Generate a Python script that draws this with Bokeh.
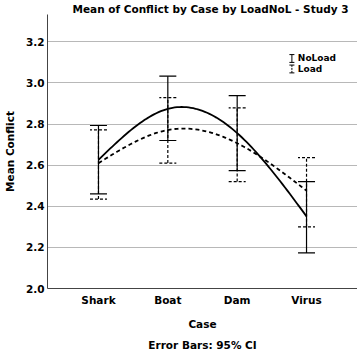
import numpy as np
from bokeh.plotting import figure
from bokeh.models import (Range1d, FixedTicker, Whisker, TeeHead, ColumnDataSource,
                          Label, Title, NumeralTickFormatter)
from bokeh.embed import file_html
from bokeh.resources import INLINE

# ---- data ----
cases = ["Shark", "Boat", "Dam", "Virus"]
noload_mean = [2.626, 2.874, 2.756, 2.351]
noload_lower = [2.460, 2.720, 2.573, 2.173]
noload_upper = [2.793, 3.033, 2.938, 2.520]
load_mean = [2.610, 2.771, 2.707, 2.476]
load_lower = [2.435, 2.610, 2.520, 2.300]
load_upper = [2.772, 2.929, 2.879, 2.637]
series_names = ["NoLoad", "Load"]
y_ticks = [2.0, 2.2, 2.4, 2.6, 2.8, 3.0, 3.2]

FONT = "DejaVu Sans"


def natural_spline(ys, steps=30):
    """Smooth natural cubic spline through the means (display only)."""
    y = np.asarray(ys, dtype=float)
    n = len(y)
    xs = np.arange(n, dtype=float)
    A = np.zeros((n, n))
    b = np.zeros(n)
    A[0, 0] = 1
    A[-1, -1] = 1
    for i in range(1, n - 1):
        A[i, i - 1] = 1
        A[i, i] = 4
        A[i, i + 1] = 1
        b[i] = 6 * (y[i - 1] - 2 * y[i] + y[i + 1])
    M = np.linalg.solve(A, b)
    out_x, out_y = [], []
    for i in range(n - 1):
        t = np.linspace(0, 1, steps, endpoint=(i == n - 2))
        s = 1 - t
        val = (y[i] * s + y[i + 1] * t
               + M[i] / 6 * (s ** 3 - s) + M[i + 1] / 6 * (t ** 3 - t))
        out_x.extend(xs[i] + t)
        out_y.extend(val)
    return out_x, out_y


p = figure(width=357, height=354, output_backend="svg", toolbar_location=None,
           x_range=Range1d(-0.735, 3.735), y_range=Range1d(2.0, 3.333),
           min_border_left=0, min_border_right=0, min_border_top=0,
           min_border_bottom=0)
p.outline_line_color = None
p.background_fill_color = "white"
p.border_fill_color = "white"

# title
p.title.text = "Mean of Conflict by Case by LoadNoL - Study 3"
p.title.align = "left"
p.title.offset = 25
p.title.standoff = 0
p.title.text_font = FONT
p.title.text_font_size = "10.5px"
p.title.text_font_style = "bold"
p.title.text_color = "black"

# axes
for ax in (p.xaxis[0], p.yaxis[0]):
    ax.axis_line_color = "#444444"
    ax.axis_line_width = 1
    ax.major_tick_in = 0
    ax.major_tick_out = 0
    ax.minor_tick_line_color = None
    ax.major_label_text_font = FONT
    ax.major_label_text_font_size = "10.5px"
    ax.major_label_text_font_style = "bold"
    ax.major_label_text_color = "black"
    ax.axis_label_text_font = FONT
    ax.axis_label_text_font_size = "10.5px"
    ax.axis_label_text_font_style = "bold"
    ax.axis_label_text_color = "black"

p.yaxis.ticker = FixedTicker(ticks=y_ticks)
p.yaxis.formatter = NumeralTickFormatter(format="0.0")
p.yaxis.axis_label = "Mean Conflict"
p.yaxis.major_label_standoff = 3
p.yaxis.axis_label_standoff = 7

p.xaxis.ticker = FixedTicker(ticks=list(range(len(cases))))
p.xaxis.major_label_overrides = {i: c for i, c in enumerate(cases)}
p.xaxis.axis_label = "Case"
p.xaxis.major_label_standoff = 5
p.xaxis.axis_label_standoff = 9

p.xgrid.visible = False
p.ygrid.ticker = FixedTicker(ticks=y_ticks[1:])
p.ygrid.grid_line_color = "#b8b8b8"
p.ygrid.grid_line_width = 1

# footer
foot = Title(text="Error Bars: 95% CI", align="center", text_font=FONT,
             text_font_size="10.5px", text_font_style="bold", text_color="black",
             standoff=8)
p.add_layout(foot, "below")

xcat = list(range(len(cases)))

# error bars
for lower, upper, dash in ((noload_lower, noload_upper, "solid"),
                           (load_lower, load_upper, "3 2")):
    src = ColumnDataSource(dict(x=xcat, lower=lower, upper=upper))
    w = Whisker(base="x", lower="lower", upper="upper", source=src,
                line_color="black", line_width=1.2, line_dash=dash,
                upper_head=TeeHead(size=17, line_color="black", line_width=1.2, line_dash=dash),
                lower_head=TeeHead(size=17, line_color="black", line_width=1.2, line_dash=dash),
                level="glyph")
    p.add_layout(w)

# mean curves
sx, sy = natural_spline(noload_mean)
p.line(sx, sy, line_color="black", line_width=1.8)
dx, dy = natural_spline(load_mean)
p.line(dx, dy, line_color="black", line_width=1.8, line_dash="4 3")

# legend (error-bar icons)
leg_x = 2.789
leg_text_x = 2.875
leg_y = [3.119, 3.068]
leg_half = 0.019
for name, yy, dash in zip(series_names, leg_y, ("solid", "2 1")):
    src = ColumnDataSource(dict(x=[leg_x], lower=[yy - leg_half], upper=[yy + leg_half]))
    p.add_layout(Whisker(base="x", lower="lower", upper="upper", source=src,
                         line_color="black", line_width=1, line_dash=dash,
                         upper_head=TeeHead(size=5, line_color="black", line_width=1),
                         lower_head=TeeHead(size=5, line_color="black", line_width=1)))
    p.add_layout(Label(x=leg_text_x, y=yy, text=name, text_baseline="middle",
                       text_font=FONT, text_font_size="9px", text_font_style="bold",
                       text_color="black"))

open("out.html", "w").write(file_html(p, INLINE))
